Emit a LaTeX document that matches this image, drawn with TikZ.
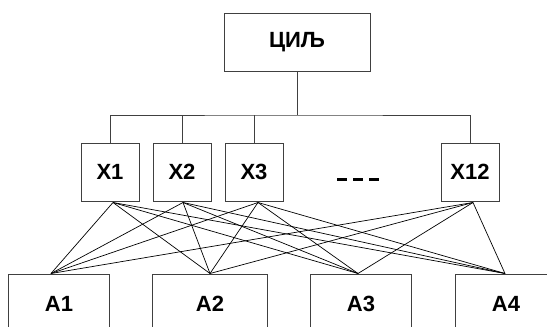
\documentclass[tikz,border=0pt]{standalone}
\usepackage{fontspec}
\setmainfont{Liberation Sans}
\usetikzlibrary{calc}
\begin{document}
\begin{tikzpicture}[x=1pt,y=-1pt,
  box/.style={draw=black!75,line width=1pt,inner sep=0pt,font=\bfseries\fontsize{22}{24}\selectfont},
  xbox/.style={box,minimum width=58pt,minimum height=58pt},
  abox/.style={box,minimum width=101pt,minimum height=70pt,text depth=11pt,text height=16pt},
  tree/.style={draw=black!75,line width=0.9pt},
  link/.style={draw=black,line width=0.7pt}]
\useasboundingbox (0,0) rectangle (547,327);
\node[box,minimum width=146pt,minimum height=58pt] (goal) at (297,42) {ЦИЉ};
\node[xbox] (x1) at (110,172) {X1};
\node[xbox] (x2) at (182,172) {X2};
\node[xbox] (x3) at (254,172) {X3};
\node[xbox] (x12) at (470,172) {X12};
\node[inner sep=0pt] (dots) at (358,179) {\rule{9.5pt}{3pt}\hspace{6.5pt}\rule{9.5pt}{3pt}\hspace{6.5pt}\rule{9.5pt}{3pt}};
\node[abox] (a1) at (59,309) {A1};
\node[abox,minimum width=115pt] (a2) at (210,309) {A2};
\node[abox] (a3) at (361,309) {A3};
\node[abox] (a4) at (506,309) {A4};
\coordinate (bar) at (goal.south |- 0,115);
\draw[tree] (goal.south) -- (bar);
\draw[tree] (x1.north) |- (bar) -| (x12.north);
\draw[tree] (x2.north) -- (x2.north |- bar);
\draw[tree] (x3.north) -- (x3.north |- bar);
\coordinate (p1) at ($(x1.south)+(3,1)$);
\coordinate (p2) at ($(x2.south)+(1,1)$);
\coordinate (p3) at ($(x3.south)+(4,1)$);
\coordinate (p12) at ($(x12.south)+(3,1)$);
\coordinate (q1) at ($(a1.north)+(-8,0)$);
\coordinate (q2) at (a2.north);
\coordinate (q3) at ($(a3.north)+(-3,0)$);
\coordinate (q4) at ($(a4.north)+(-1,0)$);
\foreach \p in {p1,p2,p3,p12}{
  \foreach \q in {q1,q2,q3,q4}{
    \draw[link] (\p) -- (\q);
  }
}
\end{tikzpicture}
\end{document}
